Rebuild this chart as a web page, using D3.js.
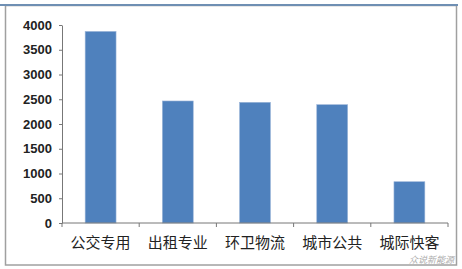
<!DOCTYPE html>
<html>
<head>
<meta charset="utf-8">
<script src="https://cdn.jsdelivr.net/npm/d3@7"></script>
<style>
body { margin: 0; background: #fff; }
.y-axis text { font-family: "Liberation Sans", Arial, sans-serif; font-size: 13px; font-weight: bold; fill: #222; }
.x-axis text { font-family: "Noto Sans CJK SC", sans-serif; font-size: 15px; fill: #222; }
.domain, .tick line { stroke: #777; }
</style>
</head>
<body>
<svg width="462" height="269"></svg>
<script>
var categories = ["公交专用", "出租专业", "环卫物流", "城市公共", "城际快客"];
var values = [3870, 2465, 2438, 2390, 834];
var yTicks = [0, 500, 1000, 1500, 2000, 2500, 3000, 3500, 4000];

var svg = d3.select("svg"),
    width = +svg.attr("width"),
    height = +svg.attr("height");

// outer frame
svg.append("rect")
    .attr("x", 5.5).attr("y", 5.5)
    .attr("width", 451).attr("height", 259.5)
    .attr("fill", "none")
    .attr("stroke", "#a0a0a0")
    .attr("stroke-width", 1.5);
svg.append("line")
    .attr("x1", 0).attr("x2", 458)
    .attr("y1", 5).attr("y2", 5)
    .attr("stroke", "#6f8fb3")
    .attr("stroke-width", 2);

var margin = {top: 25, left: 62, right: 14, bottom: 46};

var x = d3.scaleBand()
    .domain(categories)
    .range([margin.left, 448])
    .paddingInner(0.6)
    .paddingOuter(0.3);

var y = d3.scaleLinear()
    .domain([0, 4000])
    .range([223, margin.top]);

svg.append("g")
    .attr("class", "y-axis")
    .attr("transform", "translate(" + margin.left + ",0)")
    .call(d3.axisLeft(y).tickValues(yTicks).tickFormat(d3.format("d"))
        .tickSize(3).tickPadding(7).tickSizeOuter(0));

svg.selectAll(".bar")
    .data(values)
    .enter().append("rect")
    .attr("class", "bar")
    .attr("x", function(d, i) { return x(categories[i]); })
    .attr("y", function(d) { return y(d); })
    .attr("width", x.bandwidth())
    .attr("height", function(d) { return y(0) - y(d); })
    .attr("fill", "#4f81bd")
    .attr("stroke", "#9bb5d8")
    .attr("stroke-width", 0.6);

// category boundary ticks
var bounds = [margin.left].concat(categories.map(function(c) { return x(c) - x.step() * x.paddingInner() / 2 + x.step(); }));
var xg = svg.append("g")
    .attr("class", "x-axis")
    .attr("transform", "translate(0," + y(0) + ")");
xg.append("line")
    .attr("class", "domain")
    .attr("x1", margin.left).attr("x2", 448);
xg.selectAll(".tick line")
    .data(bounds)
    .enter().append("line")
    .attr("stroke", "#777")
    .attr("x1", function(d) { return d; }).attr("x2", function(d) { return d; })
    .attr("y1", 0).attr("y2", 4);
xg.selectAll(".lbl")
    .data(categories)
    .enter().append("text")
    .attr("class", "lbl")
    .attr("x", function(d) { return x(d) + x.bandwidth() / 2; })
    .attr("y", 25)
    .attr("text-anchor", "middle")
    .text(function(d) { return d; });

// watermark
svg.append("text")
    .attr("x", 454).attr("y", 263)
    .attr("text-anchor", "end")
    .attr("font-family", "Noto Sans CJK SC, sans-serif")
    .attr("font-size", 9)
    .attr("font-style", "italic")
    .attr("fill", "#aaa")
    .text("众说新能源");
</script>
</body>
</html>
